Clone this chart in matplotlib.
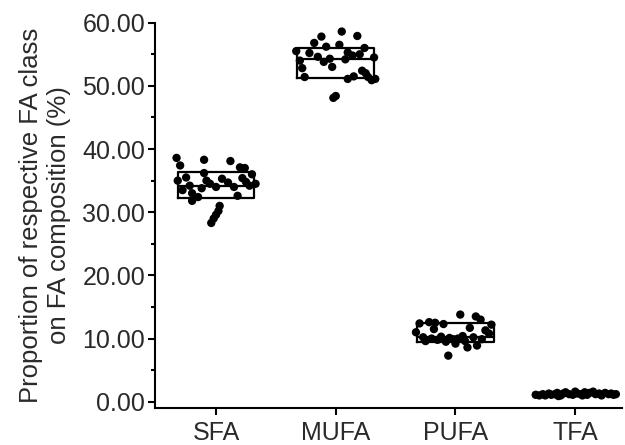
import matplotlib
matplotlib.use("Agg")
import matplotlib.pyplot as plt
import numpy as np

plt.rcParams['font.family'] = ['Liberation Sans', 'DejaVu Sans']

categories = ["SFA", "MUFA", "PUFA", "TFA"]

# box statistics (q1, median, q3)
q1 = [32.3, 51.3, 9.4, 1.0]
med = [34.2, 54.3, 10.3, 1.2]
q3 = [36.3, 56.0, 12.5, 1.4]

# individual points: jitter offset (category units) and value
sfa_dx = [-0.33, -0.30, -0.25, -0.32, -0.22, -0.28, -0.20, -0.15, -0.10, -0.10, -0.08, -0.05,
          -0.12, 0.00, 0.05, 0.12, 0.10, 0.15, 0.20, 0.22, 0.25, 0.28, 0.30, 0.18, 0.03, 0.02,
          0.00, -0.02, -0.04, -0.20, 0.33, 0.24]
sfa_y = [38.6, 37.4, 35.5, 35.0, 34.2, 33.5, 33.0, 32.4, 38.3, 36.2, 35.0, 34.5,
         33.8, 34.0, 35.3, 38.1, 34.7, 34.0, 37.1, 35.4, 34.8, 34.2, 36.0, 32.6, 31.0, 30.2,
         29.6, 29.0, 28.3, 31.8, 34.5, 37.0]

mufa_dx = [-0.33, -0.30, -0.28, -0.26, -0.22, -0.18, -0.15, -0.12, -0.10, -0.05, -0.02, 0.00,
           -0.03, 0.03, 0.05, 0.08, 0.10, 0.10, 0.15, 0.18, 0.20, 0.22, 0.25, 0.27, 0.30, 0.32,
           0.24, -0.08, 0.14, 0.33]
mufa_y = [55.5, 54.0, 52.8, 51.4, 55.2, 56.8, 54.6, 57.8, 53.8, 54.3, 48.1, 48.4,
          53.0, 56.5, 58.6, 54.2, 55.3, 51.1, 51.5, 57.9, 55.0, 52.4, 52.0, 51.4, 50.9, 54.5,
          56.0, 56.2, 54.8, 51.1]

pufa_dx = [-0.33, -0.30, -0.27, -0.25, -0.22, -0.20, -0.17, -0.15, -0.12, -0.10, -0.08, -0.05,
           -0.06, -0.02, 0.00, 0.02, 0.04, 0.06, 0.08, 0.10, 0.12, 0.15, 0.17, 0.21, 0.22, 0.25,
           0.28, 0.30, 0.18, -0.18]
pufa_y = [11.0, 12.4, 10.2, 9.6, 12.6, 10.0, 12.5, 9.8, 10.3, 12.3, 9.5, 10.1,
          7.3, 9.9, 9.2, 10.0, 13.8, 10.4, 9.6, 8.6, 11.7, 10.2, 13.5, 13.0, 9.9, 11.3,
          10.8, 12.2, 8.9, 11.5]

tfa_dx = [-0.33, -0.30, -0.27, -0.25, -0.22, -0.20, -0.17, -0.15, -0.12, -0.10, -0.08, -0.05,
          -0.02, 0.00, 0.02, 0.05, 0.08, 0.10, 0.12, 0.15, 0.17, 0.20, 0.22, 0.25, 0.28, 0.30,
          0.32, 0.34, -0.14, 0.06]
tfa_y = [1.1, 1.0, 1.2, 1.0, 1.3, 1.1, 1.2, 1.4, 1.0, 1.3, 1.5, 1.2,
         1.1, 1.6, 1.3, 1.2, 1.5, 1.1, 1.4, 1.6, 1.2, 1.3, 1.0, 1.4, 1.2, 1.3,
         1.1, 1.2, 0.9, 1.0]

dxs = [sfa_dx, mufa_dx, pufa_dx, tfa_dx]
ys = [sfa_y, mufa_y, pufa_y, tfa_y]

yticks = [0, 10, 20, 30, 40, 50, 60]

fig = plt.figure(figsize=(6.25, 4.45), dpi=100)
ax = fig.add_axes([0.248, 0.083, 0.747, 0.866])

positions = np.arange(1, len(categories) + 1)
stats = []
for i in range(len(categories)):
    stats.append(dict(med=med[i], q1=q1[i], q3=q3[i], whislo=q1[i], whishi=q3[i],
                      fliers=[], label=categories[i]))
ax.bxp(stats, positions=positions, widths=0.64, showcaps=False, showfliers=False,
       boxprops=dict(color='black', linewidth=1.6),
       medianprops=dict(color='black', linewidth=1.6),
       whiskerprops=dict(linewidth=0), zorder=2)

for i in range(len(categories)):
    x = positions[i] + np.array(dxs[i])
    ax.scatter(x, ys[i], s=36, color='black', edgecolors='none', zorder=3)

ax.set_xlim(0.49, 4.39)
ax.set_ylim(-1, 60)
ax.set_xticks(positions)
ax.set_xticklabels(categories, fontsize=18)
ax.set_yticks(yticks)
ax.set_yticklabels([f"{v:.2f}" for v in yticks], fontsize=18)
ax.set_yticks(np.arange(5, 60, 10), minor=True)

for s in ['top', 'right']:
    ax.spines[s].set_visible(False)
for s in ['left', 'bottom']:
    ax.spines[s].set_linewidth(1.5)

ax.tick_params(axis='both', which='major', direction='out', length=5, width=1.5, colors='black',
               labelcolor='#2a2a2a')
ax.tick_params(axis='y', which='minor', direction='out', length=3, width=1.5)
ax.tick_params(axis='y', pad=2)
ax.tick_params(axis='x', pad=4)

ax.set_ylabel("Proportion of respective FA class\non FA composition (%)", fontsize=18.5,
              color='#2a2a2a', labelpad=8, linespacing=1.25)

fig.savefig("out.png", dpi=100)
